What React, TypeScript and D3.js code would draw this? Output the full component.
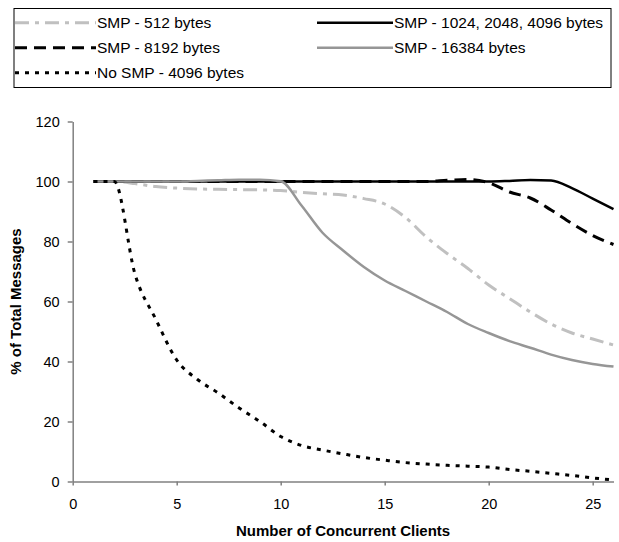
import React, { useEffect, useRef } from 'react';
import * as d3 from 'd3';

// number of concurrent clients (x values)
const clients = [1, 2, 3, 4, 5, 6, 7, 8, 9, 10, 11, 12, 13, 14, 15, 16, 17, 18, 19, 20, 21, 22, 23, 24, 25, 26];

// % of total messages, one array per series
const smp512 = [100, 100, 99.3, 98.3, 97.8, 97.5, 97.4, 97.3, 97.2, 97, 96.4, 95.9, 95.5, 94.3, 92.5, 88, 81.5, 76, 71, 65.5, 61, 56.5, 52.5, 49.5, 47.5, 45.5];
const smp1024 = [100, 100, 100, 100, 100, 100, 100, 100, 100, 100, 100, 100, 100, 100, 100, 100, 100, 100, 100, 100, 100.2, 100.5, 100.3, 97.8, 94.3, 90.8];
const smp8192 = [100, 100, 100, 100, 100, 100, 100, 100, 100, 100, 100, 100, 100, 100, 100, 100, 100, 100.4, 100.7, 99.6, 96.5, 94.5, 90.5, 86, 82, 79];
const smp16384 = [100, 100, 100, 100, 100, 100.2, 100.4, 100.6, 100.6, 100.1, 92, 83, 77, 71.5, 67, 63.5, 60, 56.5, 52.5, 49.5, 46.8, 44.6, 42.3, 40.5, 39.2, 38.3];
const noSmp = [100, 100, 69, 54, 40.5, 34, 29.5, 24.5, 20, 15, 12, 10.5, 9.2, 8, 7.1, 6.3, 5.8, 5.4, 5.1, 4.8, 4, 3.4, 2.7, 2, 1.2, 0.5];

const seriesNames = [
  'SMP - 512 bytes',
  'SMP - 1024, 2048, 4096 bytes',
  'SMP - 8192 bytes',
  'SMP - 16384 bytes',
  'No SMP - 4096 bytes',
];

const xTicks = [0, 5, 10, 15, 20, 25];
const yTicks = [0, 20, 40, 60, 80, 100, 120];

const FONT = '"Liberation Sans", Arial, sans-serif';

const App = () => {
  const ref = useRef<SVGSVGElement>(null);

  useEffect(() => {
    drawChart();
  }, []); // eslint-disable-line react-hooks/exhaustive-deps

  const drawChart = () => {
    const svg = d3.select(ref.current);
    svg.selectAll('*').remove();

    const x = d3.scaleLinear().domain([0, 26]).range([72.7, 613.5]);
    const y = d3.scaleLinear().domain([0, 120]).range([481.5, 121.5]);

    const styles = [
      { color: '#c0c0c0', width: 3, dash: '14,6,4,6' },
      { color: '#000000', width: 2.5, dash: null },
      { color: '#000000', width: 3, dash: '12,7' },
      { color: '#969696', width: 2.5, dash: null },
      { color: '#000000', width: 3, dash: '4,6' },
    ];
    const values = [smp512, smp1024, smp8192, smp16384, noSmp];

    // axes
    const yAxis = svg
      .append('g')
      .attr('transform', `translate(${x(0)},0)`)
      .call(d3.axisLeft(y).tickValues(yTicks).tickSize(5).tickSizeOuter(0).tickPadding(8));

    const xAxis = svg
      .append('g')
      .attr('transform', `translate(0,${y(0)})`)
      .call(d3.axisBottom(x).tickValues(xTicks).tickSize(4).tickSizeOuter(0).tickPadding(13));

    [xAxis, yAxis].forEach((g) => {
      g.select('.domain').attr('stroke', '#808080').attr('stroke-width', 1.5);
      g.selectAll('.tick line').attr('stroke', '#808080').attr('stroke-width', 1.5);
      g.selectAll('.tick text')
        .attr('fill', '#000')
        .style('font-family', FONT)
        .style('font-size', '14.5px');
    });

    // lines
    const line = d3
      .line<number>()
      .x((d, i) => x(clients[i]))
      .y((d) => y(d))
      .curve(d3.curveMonotoneX);

    values.forEach((vals, i) => {
      svg
        .append('path')
        .datum(vals)
        .attr('d', line)
        .attr('fill', 'none')
        .attr('stroke', styles[i].color)
        .attr('stroke-width', styles[i].width)
        .attr('stroke-dasharray', styles[i].dash);
    });

    // axis titles
    svg
      .append('text')
      .attr('x', (x(0) + x(26)) / 2)
      .attr('y', 536)
      .attr('text-anchor', 'middle')
      .style('font-family', FONT)
      .style('font-size', '15px')
      .style('font-weight', 'bold')
      .text('Number of Concurrent Clients');

    svg
      .append('text')
      .attr('transform', `translate(21,${(y(0) + y(120)) / 2}) rotate(-90)`)
      .attr('text-anchor', 'middle')
      .style('font-family', FONT)
      .style('font-size', '15px')
      .style('font-weight', 'bold')
      .text('% of Total Messages');

    // legend
    const legend = svg.append('g');
    legend
      .append('rect')
      .attr('x', 14)
      .attr('y', 8.5)
      .attr('width', 597)
      .attr('height', 79)
      .attr('fill', 'none')
      .attr('stroke', '#000')
      .attr('stroke-width', 1);

    const legendPos = [
      { x0: 15, x1: 96, row: 0 },
      { x0: 317, x1: 393, row: 0 },
      { x0: 15, x1: 96, row: 1 },
      { x0: 317, x1: 393, row: 1 },
      { x0: 15, x1: 96, row: 2 },
    ];

    seriesNames.forEach((name, i) => {
      const p = legendPos[i];
      const cy = 22.7 + p.row * 25;
      legend
        .append('line')
        .attr('x1', p.x0)
        .attr('x2', p.x1)
        .attr('y1', cy)
        .attr('y2', cy)
        .attr('stroke', styles[i].color)
        .attr('stroke-width', styles[i].width)
        .attr('stroke-dasharray', styles[i].dash);
      legend
        .append('text')
        .attr('x', p.x1 + 1)
        .attr('y', cy + 5.5)
        .style('font-family', FONT)
        .style('font-size', '15.5px')
        .text(name);
    });
  };

  return (
    <div>
      <svg
        ref={ref}
        width="619"
        height="542"
        style={{ position: 'absolute', left: 0, top: 0, background: '#fff' }}
      ></svg>
    </div>
  );
};

export default App;
